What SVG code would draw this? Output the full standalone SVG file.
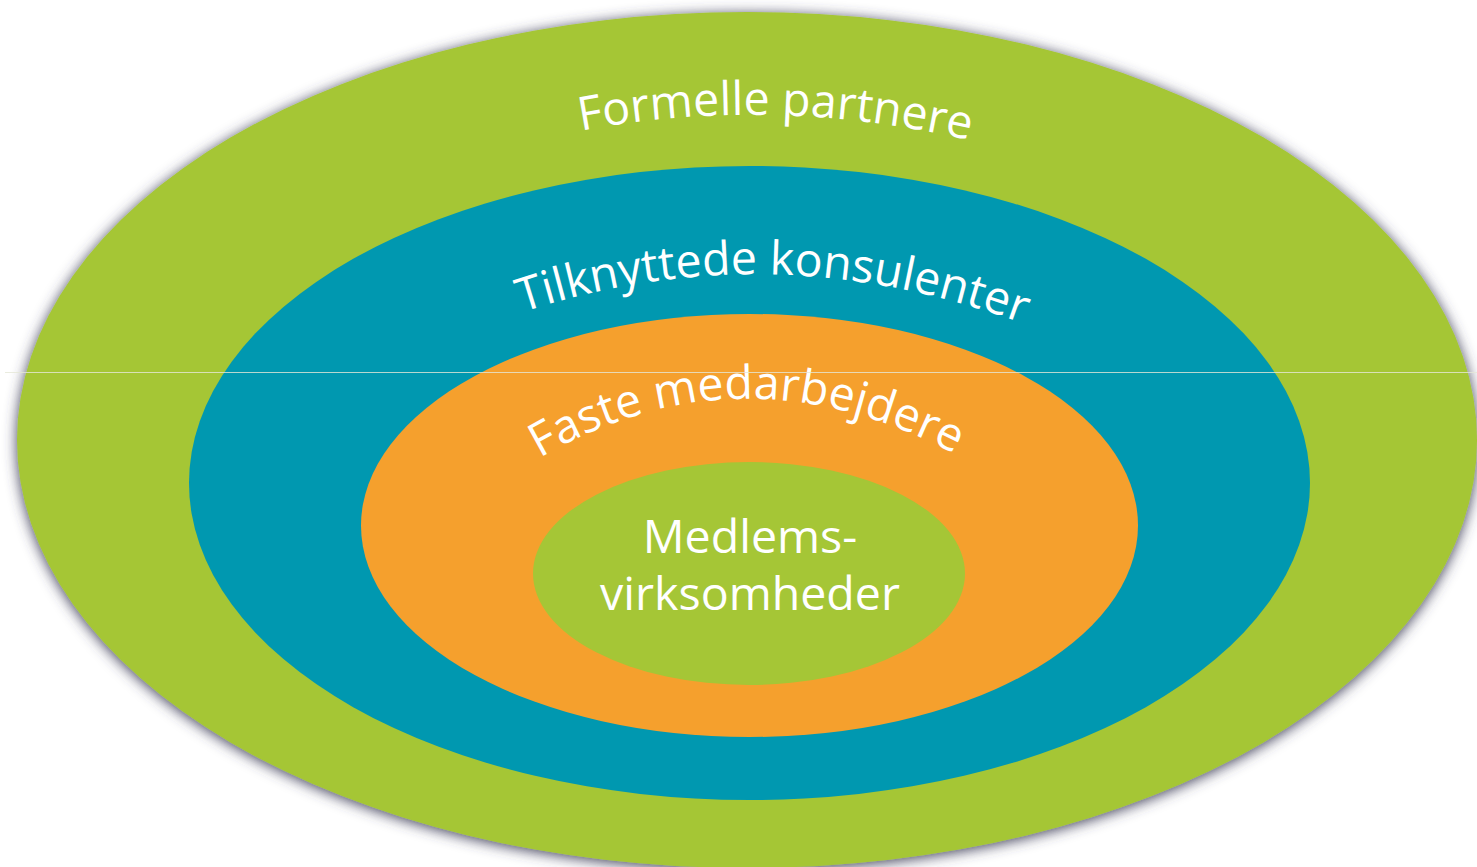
<svg xmlns="http://www.w3.org/2000/svg" width="1477" height="867" viewBox="0 0 1477 867">
  <style>
    .lbl { font-family: "Open Sans", "Noto Sans", "Liberation Sans", sans-serif; fill: #ffffff; }
    .curved { font-size: 46.5px; }
    .center { font-size: 46.5px; text-anchor: middle; }
  </style>
  <defs>
    <filter id="shadow" x="-10%" y="-10%" width="120%" height="120%">
      <feGaussianBlur in="SourceAlpha" stdDeviation="7"/>
      <feOffset dx="0" dy="2" result="b"/>
      <feFlood flood-color="#3e3e58" flood-opacity="1"/>
      <feComposite in2="b" operator="in"/>
      <feMerge><feMergeNode/><feMergeNode in="SourceGraphic"/></feMerge>
    </filter>
    <path id="p1" d="M 560 135 Q 770 90 990 145"/>
    <path id="p2" d="M 505 318 Q 770 225 1040 330"/>
    <path id="p3" d="M 520 470 Q 740 330 975 465"/>
  </defs>
  <rect width="1477" height="867" fill="#ffffff"/>
  <g id="ring-formelle">
    <ellipse cx="747" cy="440" rx="730" ry="428" fill="#a5c636" filter="url(#shadow)"/>
    <text class="lbl curved"><textPath href="#p1" startOffset="50%" text-anchor="middle">Formelle partnere</textPath></text>
  </g>
  <g id="ring-tilknyttede">
    <ellipse cx="749.5" cy="483" rx="560.5" ry="317" fill="#0098b0"/>
    <text class="lbl curved"><textPath href="#p2" startOffset="50%" text-anchor="middle">Tilknyttede konsulenter</textPath></text>
  </g>
  <g id="ring-faste">
    <ellipse cx="749.5" cy="525.5" rx="388.5" ry="211.5" fill="#f5a02d"/>
    <text class="lbl curved"><textPath href="#p3" startOffset="50%" text-anchor="middle">Faste medarbejdere</textPath></text>
  </g>
  <g id="core-medlems">
    <ellipse cx="749" cy="573.5" rx="216" ry="111.5" fill="#a5c636"/>
    <text class="lbl center"><tspan x="750" y="553">Medlems-</tspan><tspan x="750" y="610">virksomheder</tspan></text>
  </g>
  <g id="connectors"/>
  <line x1="5" y1="372.5" x2="1477" y2="372.5" stroke="#e6e8d8" stroke-width="1" opacity="0.8"/>
</svg>
